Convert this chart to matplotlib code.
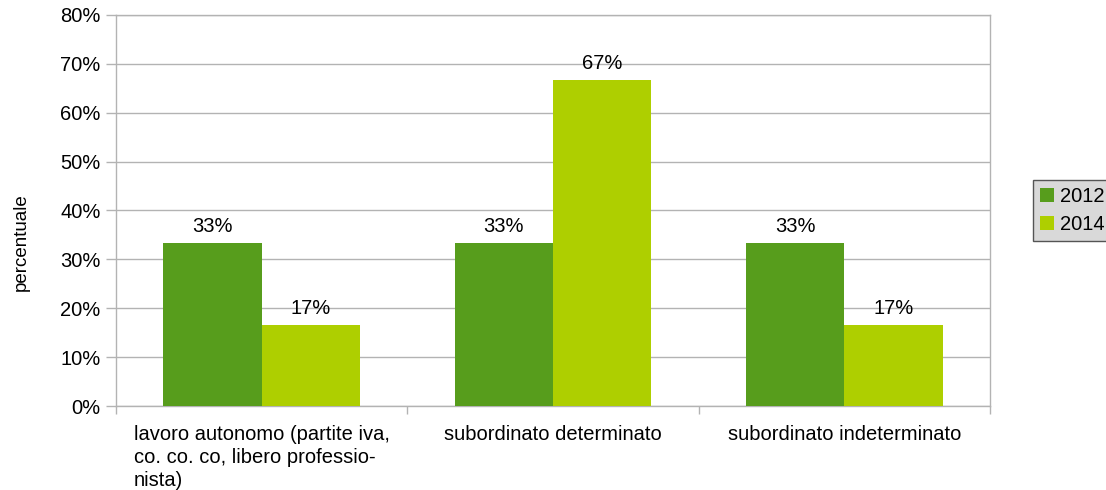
import numpy as np
import matplotlib.pyplot as plt
from matplotlib.ticker import FixedLocator

plt.rcParams['font.family'] = ['Liberation Sans', 'DejaVu Sans']

# Data
categories = ['lavoro autonomo (partite iva,\nco. co. co, libero professio-\nnista)',
              'subordinato determinato',
              'subordinato indeterminato']
years = ['2012', '2014']
values_2012 = [33.33, 33.33, 33.33]
values_2014 = [16.67, 66.67, 16.67]
labels_2012 = ['33%', '33%', '33%']
labels_2014 = ['17%', '67%', '17%']

colors = ['#579D1C', '#AECF00']
grid_col = '#b3b3b3'
fs = 14.5

fig = plt.figure(figsize=(11.06, 4.9), dpi=100)
ax = fig.add_axes([116 / 1106, 84 / 490, 874 / 1106, 391 / 490])

x = np.arange(len(categories))
w = 0.337
b1 = ax.bar(x - w / 2, values_2012, w, color=colors[0], label=years[0], zorder=3)
b2 = ax.bar(x + w / 2, values_2014, w, color=colors[1], label=years[1], zorder=3)
ax.bar_label(b1, labels=labels_2012, padding=5, fontsize=fs)
ax.bar_label(b2, labels=labels_2014, padding=5, fontsize=fs)

ax.set_xlim(-0.5, 2.5)
ax.set_ylim(0, 80)
ax.set_yticks(np.arange(0, 81, 10))
ax.set_yticklabels([f'{v}%' for v in range(0, 81, 10)], fontsize=fs)
ax.yaxis.grid(True, color=grid_col, linewidth=1, zorder=0)

# category labels centred, boundary ticks between categories
ax.xaxis.set_major_locator(FixedLocator([-0.5, 0.5, 1.5, 2.5]))
ax.set_xticklabels([])
ax.xaxis.set_minor_locator(FixedLocator(x))
ax.set_xticklabels(categories, minor=True, fontsize=fs, ha='center',
                   multialignment='left', va='top', linespacing=1.25)
ax.tick_params(axis='x', which='minor', length=0, pad=14)
ax.tick_params(axis='x', which='major', length=6, color=grid_col, width=1)
ax.tick_params(axis='y', length=7, color=grid_col, width=1, pad=4)
for sp in ax.spines.values():
    sp.set_color(grid_col)
    sp.set_linewidth(1)

ax.set_ylabel('percentuale', fontsize=13.5, labelpad=22, y=0.42)

leg = fig.legend(loc='upper left', bbox_to_anchor=(1033 / 1106, 310 / 490),
                 fontsize=fs, frameon=True, fancybox=False, handlelength=0.7,
                 handleheight=0.7, handletextpad=0.3, borderpad=0.35,
                 labelspacing=0.45, borderaxespad=0)
leg.get_frame().set_facecolor('#d9d9d9')
leg.get_frame().set_edgecolor('#555555')
leg.get_frame().set_alpha(1)

fig.savefig('out.png', dpi=100)
